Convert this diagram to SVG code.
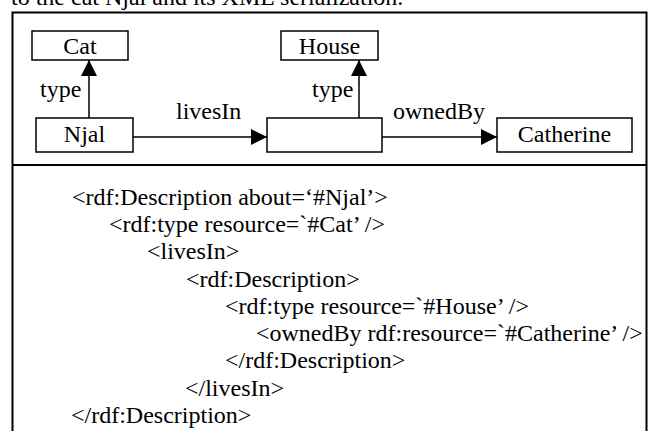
<svg xmlns="http://www.w3.org/2000/svg" width="650" height="431" viewBox="0 0 650 431">
<defs>
<style>
text{font-family:"Liberation Serif","Times New Roman",serif;font-size:24px;fill:#000}
.box{fill:#fff;stroke:#000;stroke-width:1.5}
.edge{stroke:#000;stroke-width:1.5;fill:none}
.mid{text-anchor:middle}
</style>
<marker id="ah" markerUnits="userSpaceOnUse" markerWidth="16" markerHeight="16" viewBox="0 0 14 14" refX="14" refY="7" orient="auto">
<path d="M0,0 L14,7 L0,14 Z" fill="#000"/>
</marker>
</defs>
<rect width="650" height="431" fill="#fff"/>
<text x="11" y="5">to the cat Njal and its XML serialization.</text>
<rect x="12.5" y="12.5" width="634" height="430" fill="none" stroke="#000" stroke-width="2"/>
<line x1="12.5" y1="165" x2="646.5" y2="165" stroke="#000" stroke-width="2"/>
<g id="connectors">
<line class="edge" x1="89" y1="118" x2="89" y2="60" marker-end="url(#ah)"/>
<line class="edge" x1="359" y1="118" x2="359" y2="60" marker-end="url(#ah)"/>
<line class="edge" x1="133" y1="137" x2="267" y2="137" marker-end="url(#ah)"/>
<line class="edge" x1="382" y1="137" x2="497" y2="137" marker-end="url(#ah)"/>
<text x="40" y="97">type</text>
<text x="312" y="97">type</text>
<text x="176" y="119">livesIn</text>
<text x="393" y="119">ownedBy</text>
</g>
<g id="cat"><rect class="box" x="32" y="31" width="96" height="29"/><text class="mid" x="80" y="54">Cat</text></g>
<g id="house"><rect class="box" x="281" y="31" width="97" height="29"/><text class="mid" x="329.5" y="54">House</text></g>
<g id="njal"><rect class="box" x="36" y="118" width="97" height="34"/><text class="mid" x="84.5" y="142">Njal</text></g>
<g id="blank"><rect class="box" x="267" y="118" width="115" height="34"/></g>
<g id="catherine"><rect class="box" x="497" y="118" width="135" height="34"/><text class="mid" x="564.5" y="142">Catherine</text></g>
<g id="xml">
<text x="72" y="205">&lt;rdf:Description about=‘#Njal’&gt;</text>
<text x="109" y="232">&lt;rdf:type resource=`#Cat’ /&gt;</text>
<text x="147" y="259">&lt;livesIn&gt;</text>
<text x="186" y="287">&lt;rdf:Description&gt;</text>
<text x="225" y="314">&lt;rdf:type resource=`#House’ /&gt;</text>
<text x="256" y="341">&lt;ownedBy rdf:resource=`#Catherine’ /&gt;</text>
<text x="225" y="368">&lt;/rdf:Description&gt;</text>
<text x="185" y="396">&lt;/livesIn&gt;</text>
<text x="71" y="423">&lt;/rdf:Description&gt;</text>
</g>
</svg>
